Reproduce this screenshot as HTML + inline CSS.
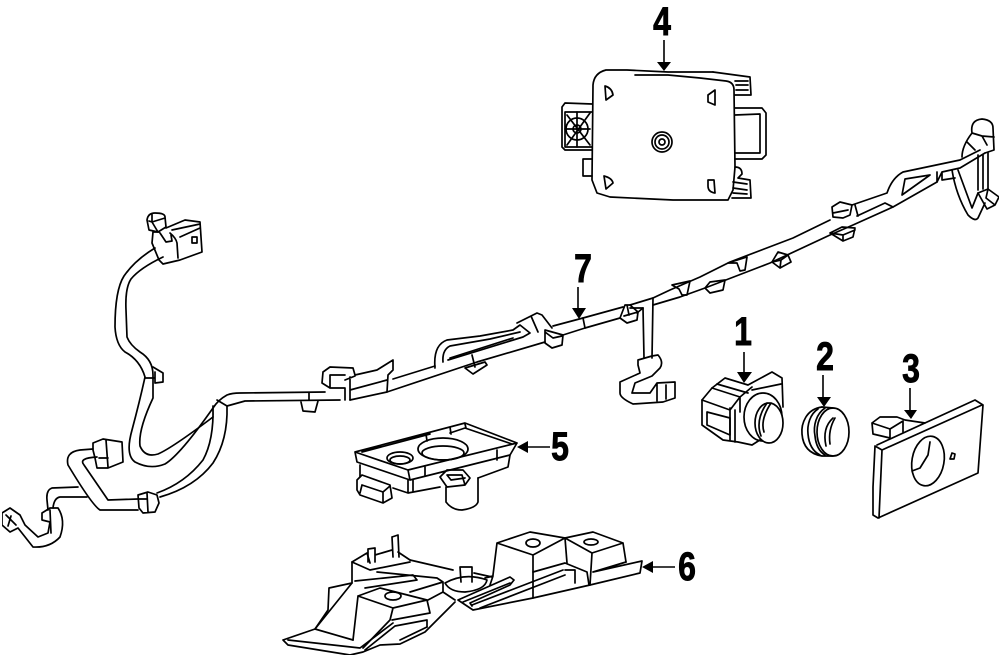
<!DOCTYPE html>
<html><head><meta charset="utf-8"><style>
html,body{margin:0;padding:0;background:#fff}
svg{display:block}
.n{font:bold 40px "Liberation Sans",sans-serif;fill:#000;stroke:#000;stroke-width:.9px;text-anchor:middle}
</style></head><body>
<svg width="1000" height="657" viewBox="0 0 1000 657" xmlns="http://www.w3.org/2000/svg">
<defs><filter id="b" x="0" y="0" width="100%" height="100%"><feGaussianBlur stdDeviation="0.35"/></filter></defs>
<rect width="1000" height="657" fill="#fff"/>
<g filter="url(#b)">
<g fill="none" stroke="#000" stroke-width="1.7" stroke-linejoin="round" stroke-linecap="round">
<!-- Part 4 module -->
<path d="M593,85Q594,73 606,70L627,70L668,72L713,72M635,75L668,75L700,78L726,81Q734,82 734,90L735,167L733,190L728,200L673,200L610,197L597,193L592,180L593,85"/>
<path d="M713,72L750,77L751,95L735,95M735,81L748,81M736,85L748,85M736,90L748,90"/>
<path d="M735,108L762,108L766,113L766,155L762,159L735,159M735,115L760,114L760,153L735,153"/>
<path d="M592,104L565,103L562,107L562,147L565,150L592,150M565,112L592,112M565,112L565,147L592,147"/>
<circle cx="577" cy="129" r="4"/><circle cx="577" cy="129" r="11"/>
<path d="M565,129L590,129M577,112L577,147M567,115L590,145M590,113L567,145"/>
<path d="M592,159L583,159L583,176L592,176"/>
<path d="M605,86Q612,88 613,95L606,100ZM715,90L708,95L708,102L715,105ZM604,176Q612,178 613,183L606,189ZM708,180L714,180L715,193Q708,192 708,186Z"/>
<circle cx="662" cy="142" r="10"/><circle cx="662" cy="142" r="7"/><circle cx="662" cy="142" r="3"/>
<path d="M735,167Q742,167 742,174L738,178M738,178L750,180L751,198L732,198M733,182L747,184M733,188L747,190M733,193L747,194"/>
<!-- Harness left top -->
<path d="M147,220Q148,213 155,213Q165,213 165,217L166,227L158,232L149,230ZM152,214L152,222L158,232M149,221L152,222L165,218"/>
<path d="M166,228L185,220L200,222L202,252L180,260L163,264L159,260L152,243L153,232L159,232M170,233Q176,238 177,243L178,258M172,230L200,224M180,237L200,228M192,237L197,237L197,243L192,243ZM160,233L166,242L172,241L171,235"/>
<path d="M155,248Q135,260 124,276Q115,290 115,327Q116,345 125,352Q140,360 145,377Q140,400 132,430Q125,455 135,462Q150,470 165,464Q180,455 213,408Q218,400 227,395Q232,393 240,393L325,392"/>
<path d="M163,257Q140,268 131,279Q125,288 126,310L127,337Q130,345 140,352Q153,360 153,375L153,398Q138,430 140,446Q145,458 158,454Q172,448 213,417"/>
<path d="M227,406L245,401L340,400M309,393L309,400M301,402L303,411L315,412L318,401"/>
<path d="M153,367L163,373L163,382L155,383M145,378L155,378M155,372L155,383"/>
<path d="M217,400L227,406Q228,440 213,463Q195,487 160,497M213,406Q214,440 203,460Q185,483 157,493M213,417L213,406"/>
<path d="M138,495L148,492L157,495L159,503L155,512L143,513L139,508ZM147,493L148,512M139,499L147,499"/>
<path d="M138,499L108,500L84,465Q78,458 97,457M138,510L100,510Q92,505 68,465Q65,452 80,450L93,449"/>
<path d="M93,443L103,439L122,442L123,462L108,468L97,468L95,458L93,450ZM106,440L108,467M99,458L108,458"/>
<path d="M78,487L52,488Q46,490 47,500L48,510M87,497L60,497Q54,498 53,508"/>
<path d="M42,513L50,508L58,508Q66,520 60,537Q50,548 33,547L18,528L10,532L2,525L2,513L10,508L20,515L25,525L38,537L48,533L50,522L42,520ZM50,510L51,533M6,515L16,525M11,516L8,526"/>
<!-- main run -->
<path d="M393,379L435,366M450,358L513,338"/>
<path d="M350,400L387,392L477,362L545,342M563,335L585,328L620,318M637,313L643,308M653,305L680,297L705,288L770,263L830,235L853,225L893,207L937,182"/>
<path d="M553,326L583,318L623,307M630,305L653,298L670,290L700,277L730,262L793,238L830,220"/>
<path d="M583,318L585,328M630,308L643,308"/>
<path d="M323,372L330,367L353,368L355,375L377,370L393,360L393,370L388,375L387,392M323,372L322,383L330,388L345,388L345,400M330,375L345,375L330,375L330,388M350,377L350,400M350,390L387,380M345,380L355,376"/>
<path d="M435,368Q433,345 447,340L480,336L513,330L520,325L530,333L523,337L448,360M443,362Q442,350 450,346L490,339L520,332M517,323L537,313L542,315L552,328M531,316L538,332"/>
<path d="M465,368L485,362L487,365L473,374ZM472,355L475,367"/>
<path d="M545,330L563,335L562,345L552,348L545,343ZM545,332L553,338L562,336"/>
<path d="M620,318L625,305L630,305L638,312L637,320L627,323ZM624,316L638,312M627,305L629,315"/>
<path d="M643,308L644,358M653,298L652,358"/>
<path d="M638,360L652,356L658,355Q664,362 660,368L652,376L635,383L632,393L650,393L657,383L675,382L675,398L663,402L633,404Q620,398 620,393L620,382L640,373L638,365ZM657,383L657,401M666,385L666,399"/>
<!-- right clips -->
<path d="M672,285L690,281L687,295L682,295L679,289Z"/>
<path d="M705,288L710,282L725,280L723,290L710,293Z"/>
<path d="M728,263L747,257L745,270L740,271L737,263Z"/>
<path d="M772,262L778,252L788,255L791,262L780,268ZM772,262L781,260L788,255M781,260L780,268"/>
<path d="M832,207L840,202L852,205L850,215L843,218L833,217ZM833,213L848,210"/>
<path d="M830,233L842,227L855,228L853,237L843,241ZM830,233L843,235L855,230M843,235L843,241"/>
<path d="M855,205L858,216M852,205L887,193Q892,178 903,172L960,160L980,150M857,216L885,203L893,207"/>
<path d="M905,179L930,175L902,195Z"/>
<path d="M937,182L942,172L960,168L985,153M937,172L937,182M942,172L942,180L955,178"/>
<path d="M962,157Q962,146 972,133Q970,120 982,119Q993,120 993,128L994,150L985,153M972,133L982,136L987,145M982,136L994,137M967,142L975,150"/>
<path d="M952,170Q956,195 968,215Q975,222 978,218L985,203M958,170L972,208L978,193"/>
<path d="M978,155L978,190M983,155L983,189M988,153L988,189"/>
<path d="M978,193L988,189L999,197L995,205L987,209ZM988,189L986,198L995,205"/>
<!-- Part 1 -->
<path d="M702,400L712,388L725,378L748,385L772,372L782,378L783,407M702,400L702,425L723,440L738,442L752,445L763,438"/>
<path d="M712,388L740,397L752,387M717,384L748,393M702,400L730,410L740,397M730,408L730,440M735,410L735,442M740,397L740,412M752,390L781,384"/>
<path d="M707,412L730,418L730,435L707,425Z"/>
<ellipse cx="763" cy="417" rx="19" ry="24"/>
<ellipse cx="769" cy="423" rx="14" ry="20" fill="#fff"/>
<path d="M767,403Q755,420 761,436M771,403Q760,420 764,432"/>
<!-- Part 2 -->
<path d="M822,407C806,409 801,424 802,434C803,447 810,454 822,456L833,456"/>
<path d="M818,409C810,414 807,425 808,434C809,446 814,452 820,455M825,408C816,414 813,426 815,436C816,446 820,452 825,455"/>
<ellipse cx="833" cy="432" rx="16" ry="24"/>
<path d="M833,418Q822,428 826,446M835,418Q828,430 830,444M822,407L833,408"/>
<!-- Part 3 -->
<path d="M877,445L975,400L983,405L978,473L878,518L873,515L873,487L875,446M875,446L882,450L982,405M882,450L879,518"/>
<ellipse cx="928" cy="461" rx="16" ry="25" transform="rotate(10 928 461)"/>
<path d="M930,442L928,455L920,468L912,471"/>
<path d="M950,459L952,453L955,454L954,459Z"/>
<path d="M872,423L880,417L897,417L905,420L925,423M872,423L873,434L890,438L890,429L872,423M890,429L903,421L903,432M905,420L925,423"/>
<!-- Part 5 -->
<path d="M355,452L465,423L517,443L510,455L410,480L357,462ZM355,452L408,470L517,443M408,470L410,480M362,452L430,434M450,433L465,428L512,444M426,434L427,441M450,427L451,434M465,424L466,428"/>
<ellipse cx="400" cy="458" rx="13" ry="6"/><ellipse cx="400" cy="460" rx="10" ry="4"/>
<ellipse cx="443" cy="449" rx="25" ry="11"/><ellipse cx="443" cy="453" rx="21" ry="7"/>
<path d="M360,465L360,477M393,488L408,493L440,487M478,478L508,467L510,455M408,480L408,493M413,480L413,492M425,467L425,476M497,450L497,460"/>
<path d="M357,480L362,475L390,485L392,498L383,503L360,495L357,490ZM362,485L383,492L383,502M362,485L360,493M383,492L390,486"/>
<path d="M440,477L447,470L463,470L470,478L465,485L447,487ZM447,475L462,475L465,485M447,475L451,480L465,478"/>
<path d="M446,487L446,502Q452,510 462,510Q476,508 478,502L478,478"/>
<!-- Part 6 -->
<path d="M283,640L288,645L350,655L363,652L380,645L400,644L425,632L455,602M283,640L315,629L328,610L329,588L352,583L352,562L367,553L370,563M315,629L353,640M288,640L360,648L393,623M365,650L395,626L427,620L427,627"/>
<path d="M315,629L352,583M358,596L353,640M358,596L393,608L390,620L363,648M358,596L380,588L427,600L393,608M427,600L430,613L392,620M400,640L427,627"/>
<ellipse cx="393" cy="596" rx="8" ry="4"/>
<path d="M352,562L370,570L410,562M355,581L413,575L417,580L365,588M377,572L437,578L443,582L443,592L428,600M410,592L443,582M443,592L455,600M410,560L453,570M474,573L492,577"/>
<path d="M368,549L375,548L375,562M368,549L368,562M392,537L398,535L399,557M392,537L393,557M460,567L472,567L472,582M460,567L461,582M375,555L392,550M398,552L410,560"/>
<path d="M445,583Q465,572 487,580Q485,590 465,592Q450,592 445,583Z"/>
<path d="M485,578L493,576L490,585"/>
<path d="M497,543L530,532L565,538L533,555ZM497,543L493,575M533,555L533,598M565,538L567,563"/>
<ellipse cx="533" cy="543" rx="7" ry="4"/>
<path d="M565,538L593,532L623,543L592,553ZM623,543L626,562M592,553L590,585"/>
<ellipse cx="591" cy="542" rx="7" ry="3"/>
<path d="M593,572L642,561L640,573L590,585L533,598L473,610L458,600L510,577L514,580L510,585L470,603L472,606M626,562L593,572"/>
<path d="M463,602L510,583M472,605L563,570M480,608L565,575M533,572L565,563L587,572L589,585M565,570L575,570L575,583"/>
</g>
<!-- arrows -->
<g stroke="#000" stroke-width="1.6" fill="none">
<path d="M664,40V62M744,352V372M823,375V397M910,388V410M550,447H528M675,567H653M578,287V308"/>
</g>
<g fill="#000">
<path d="M657,62H671L664,71ZM737,372H752L744,383ZM817,397H831L824,407ZM904,410H917L911,419ZM528,441V453L517,447ZM653,561V573L642,567ZM572,308H586L579,319Z"/>
</g>
<g>
<text class="n" transform="translate(662 35) scale(.8 1)" x="0" y="0">4</text>
<text class="n" transform="translate(743 345) scale(.8 1)" x="0" y="0">1</text>
<text class="n" transform="translate(825 370) scale(.8 1)" x="0" y="0">2</text>
<text class="n" transform="translate(911 382) scale(.8 1)" x="0" y="0">3</text>
<text class="n" transform="translate(560 460) scale(.8 1)" x="0" y="0">5</text>
<text class="n" transform="translate(687 580) scale(.8 1)" x="0" y="0">6</text>
<text class="n" transform="translate(583 282) scale(.8 1)" x="0" y="0">7</text>
</g>
</g>
</svg>
</body></html>
